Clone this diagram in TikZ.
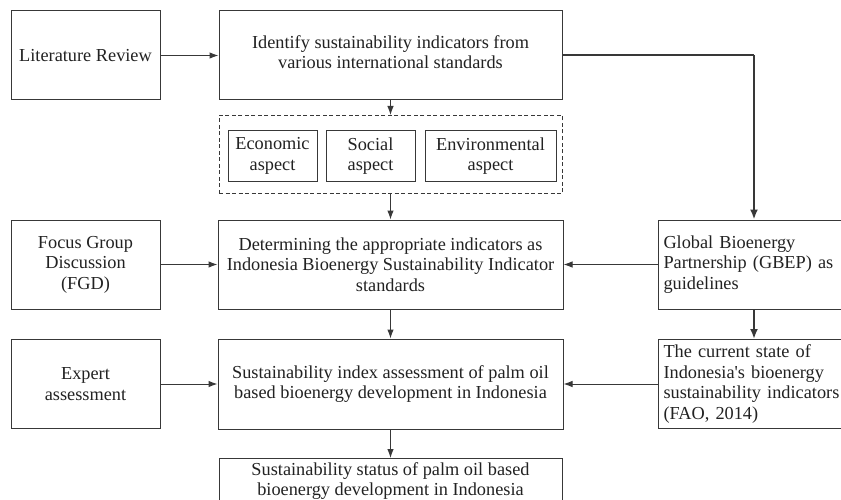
\documentclass[tikz,border=0pt]{standalone}
\usepackage{fontspec}
\setmainfont{Liberation Serif}
\usetikzlibrary{arrows.meta}
\definecolor{ln}{HTML}{383838}
\definecolor{tx}{HTML}{222222}
\begin{document}
\begin{tikzpicture}[x=1pt,y=-1pt,
  box/.style={draw=ln,line width=1pt,rectangle,inner sep=0pt,align=center,text=tx,
    font=\fontsize{18.3}{20.5}\selectfont},
  lbox/.style={draw=ln,line width=1pt,rectangle,inner xsep=5pt,inner ysep=0pt,align=left,text=tx,
    text width=190pt,minimum height=89pt,anchor=west,font=\fontsize{18.3}{20.5}\selectfont},
  arr/.style={draw=ln,line width=1pt,-{Latex[length=9pt,width=6.5pt]}},
  tarr/.style={draw=ln,line width=2pt,-{Latex[length=10pt,width=8pt]}},
  tline/.style={draw=ln,line width=2pt}]
\clip (0,0) rectangle (841,500);
\fill[white] (0,0) rectangle (841,500);
% left column
\node[box,minimum width=149pt,minimum height=89pt] (lit) at (85.5,55.5) {Literature Review};
\node[box,minimum width=149pt,minimum height=89pt] (fgd) at (85.5,264.5) {Focus Group\\Discussion\\(FGD)};
\node[box,minimum width=149pt,minimum height=89pt] (exp) at (85.5,384) {Expert\\assessment};
% middle column
\node[box,minimum width=343pt,minimum height=89pt] (ide) at (390.5,55.5) {};
\node[text=tx,align=center,inner sep=0pt,font=\fontsize{18.3}{20.5}\selectfont] (idet) at (390.5,52) {Identify sustainability indicators from\\various international standards};
\node[box,dashed,dash pattern=on 4pt off 2.5pt,minimum width=343pt,minimum height=78pt] (asp) at (390.5,154.5) {};
\node[box,minimum width=89pt,minimum height=51pt] (eco) at (272.5,156) {Economic\\aspect};
\node[box,minimum width=89pt,minimum height=51pt] (soc) at (370.5,156) {Social\\aspect};
\node[box,minimum width=131pt,minimum height=51pt] (env) at (490.5,156) {Environmental\\aspect};
\node[box,minimum width=345pt,minimum height=89pt] (det) at (390.5,264.5) {Determining the appropriate indicators as\\Indonesia Bioenergy Sustainability Indicator\\standards};
\node[box,minimum width=345pt,minimum height=90pt] (idx) at (390.5,384) {Sustainability index assessment of palm oil\\based bioenergy development in Indonesia};
\node[box,minimum width=343pt,minimum height=60pt,anchor=north] (sta) at (390.5,458) {};
\node[text=tx,align=center,inner sep=0pt,font=\fontsize{18.3}{20.5}\selectfont,anchor=north] (stat) at (390.5,462) {Sustainability status of palm oil based\\bioenergy development in Indonesia};
% right column
\node[lbox] (gbep) at (658,264.5) {Global Bioenergy\\Partnership (GBEP) as\\guidelines};
\node[lbox] (cur) at (658,384) {The current state of\\Indonesia\textquotesingle s bioenergy\\sustainability indicators\\(FAO, 2014)};
% connectors
\coordinate (turn) at (754,55.5);
\draw[arr] (lit) -- (ide);
\draw[arr] (fgd) -- (det);
\draw[arr] (exp) -- (idx);
\draw[arr] (gbep) -- (det);
\draw[arr] (cur.west) -- (idx.east);
\draw[arr] (ide) -- (asp);
\draw[arr] (asp) -- (det);
\draw[arr] (det) -- (idx);
\draw[arr] (idx) -- (sta);
\draw[tline] (ide.east) -- (turn);
\draw[tarr] (turn) -- (turn |- gbep.north);
\draw[tarr] (gbep.south -| turn) -- (cur.north -| turn);
\end{tikzpicture}
\end{document}
